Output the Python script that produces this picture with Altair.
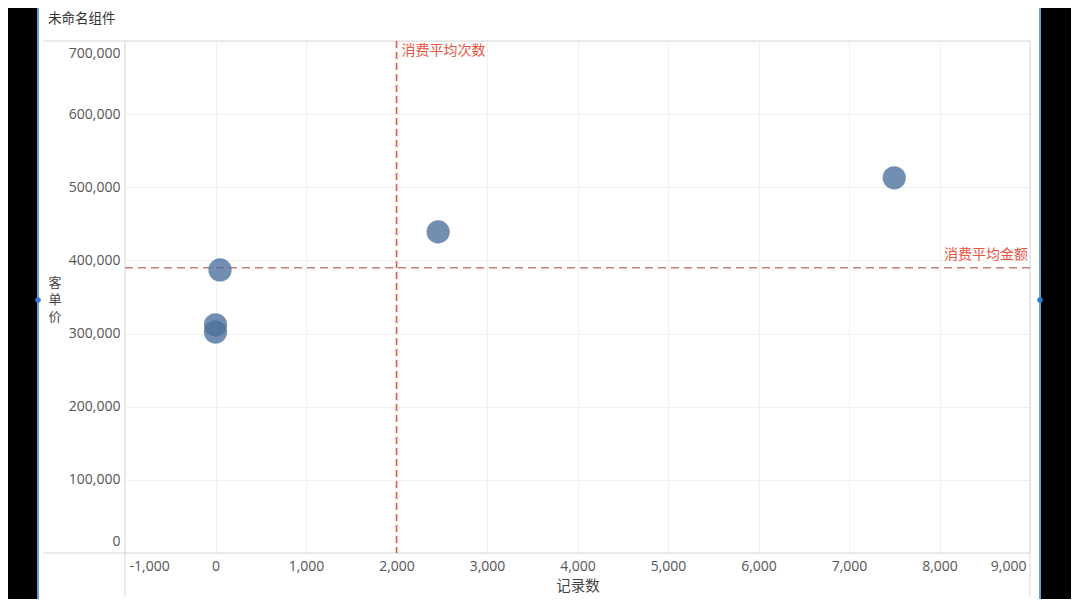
import altair as alt
import pandas as pd

# ---- data ----
record_counts = [0, 0, 50, 2460, 7500]
unit_prices = [302000, 312000, 387000, 439000, 513000]
avg_count = 2000
avg_amount = 390000
x_ticks = list(range(-1000, 9001, 1000))
y_ticks = list(range(0, 700001, 100000))

pts = pd.DataFrame({"x": record_counts, "y": unit_prices})
one = pd.DataFrame({"a": [0]})

FONT = "Open Sans, Noto Sans, Noto Sans CJK SC, sans-serif"
CJK = "Noto Sans CJK SC, sans-serif"
W, H = 905, 512

xs = alt.Scale(domain=[-1000, 9000], nice=False, zero=False)
ys = alt.Scale(domain=[0, 700000], nice=False, zero=False)

minus_fix = "replace(format(datum.value, ',d'), '\u2212', '-')"

points = alt.Chart(pts).mark_circle(size=540, color="#4a6f9c", opacity=0.78).encode(
    x=alt.X("x:Q", scale=xs, title=None,
            axis=alt.Axis(values=x_ticks, labelExpr=minus_fix, labelFlush=True,
                          labelFlushOffset=-4, labelPadding=6, gridColor="#f0f0f0")),
    y=alt.Y("y:Q", scale=ys, title=None,
            axis=alt.Axis(values=y_ticks, labelExpr=minus_fix, labelFlush=True,
                          labelFlushOffset=-5, labelPadding=5, gridColor="#f0f0f0")),
)

d = alt.Chart(one)

def rect(x1, x2, y1, y2, color):
    return d.mark_rect(color=color).encode(
        x=alt.value(x1), x2=alt.value(x2), y=alt.value(y1), y2=alt.value(y2))

def hline(x1, x2, y, color="#d9d9d9", w=1):
    return d.mark_rule(color=color, strokeWidth=w).encode(
        x=alt.value(x1), x2=alt.value(x2), y=alt.value(y))

def vline(x, y1, y2, color="#d9d9d9", w=1):
    return d.mark_rule(color=color, strokeWidth=w).encode(
        x=alt.value(x), y=alt.value(y1), y2=alt.value(y2))

black_left = rect(-117, -87, -33, 558, "#000000")
black_right = rect(915, 946, -33, 558, "#000000")
blue_left = vline(-87, -33, 558, "#6b9ed6", 2)
blue_right = vline(915, -33, 558, "#6b9ed6", 2)
handles = d.mark_circle(size=30, color="#2f7bd6", opacity=1).encode(
    x=alt.value(-87), y=alt.value(259))
handles2 = d.mark_circle(size=30, color="#2f7bd6", opacity=1).encode(
    x=alt.value(915), y=alt.value(259))

frame_top = hline(-82, 905, 0)
frame_bottom = hline(-82, 905, 512)
frame_left = vline(0, 0, 556)
frame_right = vline(905, 0, 556)

title = d.mark_text(text="未命名组件", font=CJK, fontSize=13.5, color="#333333",
                    align="left", baseline="middle").encode(
    x=alt.value(-77), y=alt.value(-22))

x_title = d.mark_text(text="记录数", font=CJK, fontSize=14.5, color="#444444",
                      align="center", baseline="middle").encode(
    x=alt.value(453), y=alt.value(546))

y_chars = ["客", "单", "价"]
y_title_layers = [
    d.mark_text(text=ch, font=CJK, fontSize=13, color="#444444",
                align="center", baseline="middle").encode(
        x=alt.value(-70), y=alt.value(242 + 17 * i))
    for i, ch in enumerate(y_chars)
]

avg_x_df = pd.DataFrame({"v": [avg_count], "label": ["消费平均次数"]})
avg_y_df = pd.DataFrame({"v": [avg_amount], "label": ["消费平均金额"]})

vrule = alt.Chart(avg_x_df).mark_rule(color="#e8553f", strokeWidth=1.5,
                                      strokeDash=[7, 4]).encode(
    x=alt.X("v:Q", scale=xs))
vlabel = alt.Chart(avg_x_df).mark_text(font=CJK, fontSize=14, color="#e8553f",
                                       align="left", baseline="middle", dx=5).encode(
    x=alt.X("v:Q", scale=xs), y=alt.value(10), text="label:N")

hrule = alt.Chart(avg_y_df).mark_rule(color="#c4807c", strokeWidth=1.5,
                                      strokeDash=[8, 5]).encode(
    y=alt.Y("v:Q", scale=ys))
hlabel = alt.Chart(avg_y_df).mark_text(font=CJK, fontSize=14, color="#e8553f",
                                       align="right", baseline="middle", dy=-13).encode(
    x=alt.value(903), y=alt.Y("v:Q", scale=ys), text="label:N")

chart = alt.layer(
    black_left, black_right, blue_left, blue_right, handles, handles2,
    frame_top, frame_bottom, frame_left, frame_right,
    vrule, hrule, points, vlabel, hlabel, title, x_title, *y_title_layers,
).properties(
    width=W, height=H,
    autosize=alt.AutoSizeParams(type="none"),
    padding={"left": 117, "top": 33, "right": 41, "bottom": 46},
    background="#ffffff",
).configure_view(strokeWidth=0).configure_axis(
    domain=False, ticks=False, labelColor="#555555", labelFont=FONT,
    labelFontSize=14,
)

chart.save("out.html", embed_options={"renderer": "svg", "actions": False})
